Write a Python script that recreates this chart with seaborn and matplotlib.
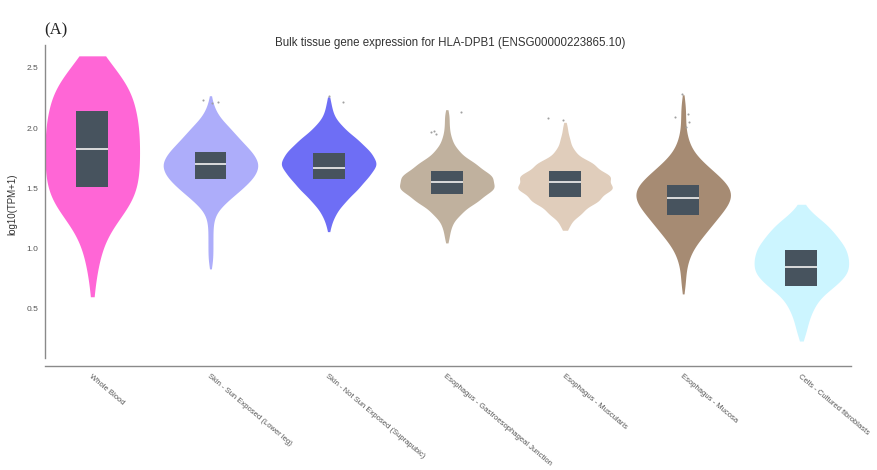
import numpy as np
import pandas as pd
import matplotlib
matplotlib.use("Agg")
import matplotlib.pyplot as plt
import seaborn as sns

# tissues and colours (GTEx palette, drawn at ~60% opacity on white)
tissues = [
    "Whole Blood",
    "Skin - Sun Exposed (Lower leg)",
    "Skin - Not Sun Exposed (Suprapubic)",
    "Esophagus - Gastroesophageal Junction",
    "Esophagus - Muscularis",
    "Esophagus - Mucosa",
    "Cells - Cultured fibroblasts",
]
colors = ["#ff66d6", "#adadfa", "#6e6ef5", "#c0b19e", "#e0cdbb", "#a68b73", "#ccf5ff"]

# expression levels (log10(TPM+1)) and sample counts read per level
levels = [0.2, 0.3, 0.4, 0.5, 0.6, 0.7, 0.8, 0.9, 1.0, 1.1, 1.2, 1.3, 1.4,
          1.5, 1.6, 1.7, 1.8, 1.9, 2.0, 2.1, 2.2, 2.3, 2.4, 2.5, 2.6]
blood = [0, 0, 0, 0, 1, 1, 2, 3, 4, 6, 9, 14, 18, 19, 20, 20, 20, 20, 20, 19, 18, 17, 14, 9, 6]
skin_sun = [0, 0, 0, 0, 0, 0, 0, 1, 1, 1, 1, 2, 7, 13, 18, 20, 17, 12, 8, 3, 1, 0, 0, 0, 0]
skin_not_sun = [0, 0, 0, 0, 0, 0, 0, 0, 0, 0, 1, 3, 7, 12, 16, 20, 17, 12, 6, 2, 1, 0, 0, 0, 0]
eso_gj = [0, 0, 0, 0, 0, 0, 0, 0, 0, 1, 2, 6, 13, 20, 19, 12, 5, 2, 1, 1, 0, 0, 0, 0, 0]
eso_musc = [0, 0, 0, 0, 0, 0, 0, 0, 0, 0, 2, 7, 14, 20, 19, 12, 4, 2, 1, 0, 0, 0, 0, 0, 0]
eso_muc = [0, 0, 0, 0, 0, 1, 1, 2, 4, 8, 12, 16, 20, 20, 15, 9, 4, 2, 1, 1, 1, 0, 0, 0, 0]
fibro = [0, 2, 3, 5, 8, 15, 20, 20, 19, 15, 11, 4, 0, 0, 0, 0, 0, 0, 0, 0, 0, 0, 0, 0, 0]

# box stats
q1 = [1.51, 1.58, 1.58, 1.45, 1.43, 1.28, 0.69]
med = [1.83, 1.70, 1.67, 1.55, 1.55, 1.42, 0.85]
q3 = [2.14, 1.80, 1.79, 1.64, 1.64, 1.53, 0.99]

# outlier points
out_tissue = [1, 1, 1, 2, 2, 3, 3, 3, 3, 4, 4, 5, 5, 5, 5, 5]
out_value = [2.21, 2.22, 2.23, 2.27, 2.22, 2.13, 1.98, 1.95, 1.97, 2.07, 2.08,
             2.28, 2.12, 2.09, 2.05, 2.01]

counts = [blood, skin_sun, skin_not_sun, eso_gj, eso_musc, eso_muc, fibro]
frames = []
for name, c in zip(tissues, counts):
    vals = np.repeat(levels, c)
    frames.append(pd.DataFrame({"tissue": name, "tpm": vals}))
df = pd.concat(frames, ignore_index=True)

sns.set_style("white")
plt.rcParams["font.family"] = ["Liberation Sans", "DejaVu Sans"]

fig = plt.figure(figsize=(8.77, 4.70), dpi=100)
ax = fig.add_axes([45 / 877, 1 - 363 / 470, (851 - 45) / 877, (363 - 45) / 470])

vkw = dict(x="tissue", y="tpm", hue="tissue", order=tissues, hue_order=tissues,
           palette=colors, saturation=1, inner=None, density_norm="width",
           width=0.8, linewidth=0, bw_method=0.3, legend=False, ax=ax)
# whole blood is truncated flat at its max, the others taper off
sns.violinplot(data=df[df.tissue == tissues[0]], cut=0, **vkw)
sns.violinplot(data=df[df.tissue != tissues[0]], cut=1.0, **vkw)

xs = np.arange(len(tissues))
ax.bar(xs, np.array(q3) - np.array(q1), bottom=q1, width=0.27,
       color="#47535e", linewidth=0, zorder=3)
ax.hlines(med, xs - 0.135, xs + 0.135, color="#e6e6e6", linewidth=1.3, zorder=4)

np.random.seed(3)
out_df = pd.DataFrame({"tissue": [tissues[i] for i in out_tissue], "tpm": out_value})
sns.stripplot(data=out_df, x="tissue", y="tpm", order=tissues, color="#a0a0a0",
              size=1.5, jitter=0.15, ax=ax, zorder=2)

ax.set_xlim(-0.4, 6.42)
ax.set_ylim(0.05, 2.69)
ax.set_yticks([0.5, 1.0, 1.5, 2.0, 2.5])
ax.set_yticklabels(["0.5", "1.0", "1.5", "2.0", "2.5"])
ax.set_xlabel("")
ax.set_ylabel("log10(TPM+1)", fontsize=7, color="#333333", labelpad=6)

for s in ["top", "right"]:
    ax.spines[s].set_visible(False)
for s in ["left", "bottom"]:
    ax.spines[s].set_color("#8a8a8a")
    ax.spines[s].set_linewidth(1.0)
ax.spines["bottom"].set_position(("outward", 2))
ax.spines["left"].set_bounds(0.09, 2.69)

ax.tick_params(axis="both", length=3, width=0.6, color="#8a8a8a",
               labelcolor="#555555")
ax.tick_params(axis="y", labelsize=6, pad=2)
ax.tick_params(axis="x", labelsize=5.5, pad=2)
for lab in ax.get_xticklabels():
    lab.set_rotation(-40)
    lab.set_ha("left")
    lab.set_va("top")
    lab.set_rotation_mode("anchor")

fig.text(450 / 877, 1 - 43 / 470,
         "Bulk tissue gene expression for HLA-DPB1 (ENSG00000223865.10)",
         ha="center", va="center", fontsize=8.3, color="#333333")
fig.text(56 / 877, 1 - 30 / 470, "(A)", ha="center", va="center", fontsize=12,
         family=["Liberation Serif", "DejaVu Serif"], color="#222222")

fig.savefig("out.png", dpi=100)
